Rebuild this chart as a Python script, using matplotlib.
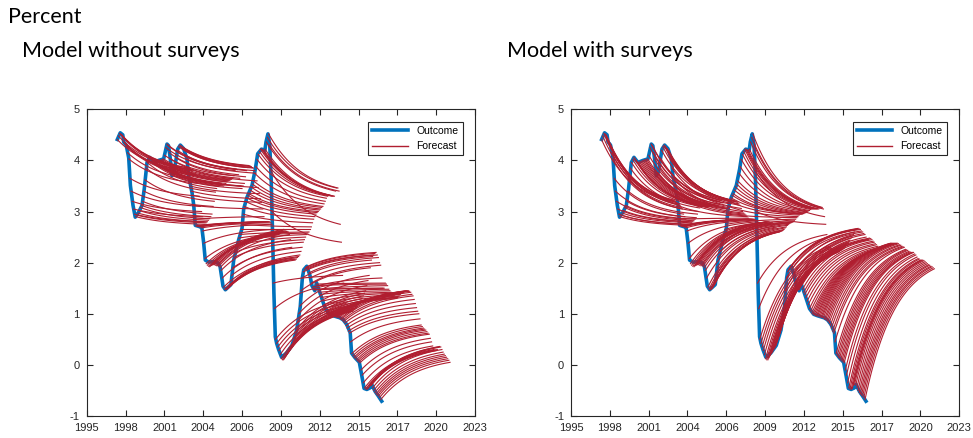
import numpy as np
import matplotlib
matplotlib.use("Agg")
import matplotlib.pyplot as plt

plt.rcParams["axes.unicode_minus"] = False

# --- OUTCOME (decimal years) ---
out_year = [1997.21, 1997.42, 1997.60, 1997.67, 1997.85, 1998.03, 1998.15, 1998.34, 1998.50,
            1998.75, 1998.99, 1999.15, 1999.35, 1999.54, 1999.83, 2000.19, 2000.55, 2000.79,
            2000.90, 2001.03, 2001.15, 2001.30, 2001.56, 2001.75, 2001.99, 2002.23, 2002.35,
            2002.59, 2002.72, 2002.83, 2003.19, 2003.31, 2003.43, 2003.55, 2003.80, 2004.18,
            2004.50, 2004.62, 2004.83, 2005.00, 2005.40, 2005.60, 2005.96, 2006.20, 2006.32,
            2006.56, 2006.92, 2007.16, 2007.33, 2007.60, 2007.85, 2007.93, 2008.07, 2008.20,
            2008.30, 2008.40, 2008.50, 2008.60, 2008.70, 2008.84, 2009.05, 2009.40, 2009.80,
            2010.14, 2010.40, 2010.55, 2010.65, 2010.87, 2011.10, 2011.24, 2011.45, 2011.57,
            2011.82, 2012.20, 2012.50, 2012.79, 2013.27, 2013.50, 2013.75, 2014.00, 2014.10,
            2014.35, 2014.66, 2014.83, 2015.00, 2015.20, 2015.43, 2015.55, 2015.80, 2016.03,
            2016.27]
out_value = [4.41, 4.54, 4.50, 4.36, 4.30, 4.05, 3.51, 3.12, 2.89,
             2.99, 3.12, 3.44, 3.96, 4.06, 3.96, 4.00, 4.03, 4.32,
             4.29, 4.03, 3.70, 3.77, 4.22, 4.30, 4.23, 4.03, 3.70,
             3.38, 3.12, 2.73, 2.70, 2.67, 2.40, 2.05, 2.01, 2.02,
             1.99, 1.92, 1.54, 1.47, 1.57, 2.05, 2.45, 2.67, 3.05,
             3.28, 3.51, 3.83, 4.13, 4.22, 4.20, 4.36, 4.52, 4.30,
             3.65, 2.60, 1.40, 0.55, 0.42, 0.30, 0.15, 0.23, 0.38,
             0.68, 1.14, 1.70, 1.86, 1.93, 1.75, 1.55, 1.45, 1.61,
             1.41, 1.10, 0.99, 0.96, 0.92, 0.88, 0.79, 0.63, 0.23,
             0.14, 0.05, -0.20, -0.46, -0.48, -0.45, -0.38, -0.52, -0.61,
             -0.71]

# --- FORECASTS: one per month from 1997.2; starting value and value at the 5-year horizon ---
fc_first = 1997.2
fc_start = [4.41, 4.48, 4.53, 4.52, 4.50, 4.45, 4.35, 4.32, 4.28, 4.15, 4.03, 3.65,
            3.40, 3.20, 3.05, 2.95, 2.90, 2.93, 2.97, 3.02, 3.08, 3.12, 3.20, 3.40,
            3.62, 3.85, 3.96, 4.02, 4.06, 4.03, 4.00, 3.97, 3.96, 3.97, 3.98, 3.99,
            4.00, 4.01, 4.01, 4.02, 4.03, 4.10, 4.25, 4.32, 4.29, 4.15, 4.03, 3.80,
            3.70, 3.76, 3.85, 4.05, 4.20, 4.27, 4.30, 4.28, 4.25, 4.23, 4.20, 4.10,
            4.03, 3.85, 3.68, 3.50, 3.40, 3.32, 3.12, 2.85, 2.72, 2.71, 2.71, 2.70,
            2.70, 2.68, 2.62, 2.38, 2.08, 1.98, 1.95, 1.93, 1.92, 1.94, 1.95, 1.96,
            1.96, 1.95, 1.94, 1.94, 1.93, 1.90, 1.85, 1.70, 1.52, 1.48, 1.47, 1.48,
            1.50, 1.54, 1.58, 1.75, 1.90, 2.10, 2.20, 2.32, 2.40, 2.48, 2.55, 2.65,
            2.75, 2.95, 3.10, 3.20, 3.27, 3.32, 3.35, 3.42, 3.48, 3.54, 3.60, 3.75,
            3.88, 4.02, 4.12, 4.18, 4.22, 4.22, 4.21, 4.20, 4.22, 4.36, 4.45, 4.52,
            4.30, 3.80, 3.00, 1.60, 1.10, 0.50, 0.42, 0.35, 0.28, 0.20, 0.12, 0.10,
            0.10, 0.14, 0.18, 0.22, 0.25, 0.30, 0.33, 0.38, 0.45, 0.52, 0.60, 0.68,
            0.85, 1.00, 1.15, 1.45, 1.70, 1.82, 1.87, 1.90, 1.92, 1.88, 1.80, 1.70,
            1.60, 1.52, 1.47, 1.47, 1.58, 1.55, 1.48, 1.42, 1.38, 1.32, 1.25, 1.18,
            1.10, 1.05, 1.01, 0.99, 0.98, 0.97, 0.96, 0.96, 0.95, 0.94, 0.93, 0.93,
            0.92, 0.90, 0.89, 0.87, 0.85, 0.82, 0.77, 0.72, 0.66, 0.62, 0.45, 0.22,
            0.18, 0.15, 0.13, 0.10, 0.08, 0.06, 0.04, -0.10, -0.20, -0.35, -0.45, -0.47,
            -0.48, -0.46, -0.40, -0.38, -0.40, -0.45, -0.50, -0.54, -0.57, -0.59, -0.61, -0.64,
            -0.68]
fc_end_without = [3.80, 3.83, 3.85, 3.85, 3.82, 3.80, 3.75, 3.72, 3.70, 3.62, 3.55, 3.30,
                  3.10, 3.00, 2.90, 2.80, 2.75, 2.78, 2.80, 2.83, 2.86, 2.90, 2.95, 3.10,
                  3.20, 3.38, 3.45, 3.50, 3.55, 3.55, 3.55, 3.52, 3.50, 3.52, 3.55, 3.58,
                  3.60, 3.61, 3.62, 3.63, 3.65, 3.70, 3.80, 3.83, 3.82, 3.72, 3.65, 3.50,
                  3.45, 3.50, 3.55, 3.68, 3.80, 3.86, 3.90, 3.89, 3.88, 3.86, 3.85, 3.80,
                  3.75, 3.60, 3.47, 3.35, 3.25, 3.18, 3.05, 2.90, 2.80, 2.80, 2.80, 2.80,
                  2.80, 2.78, 2.75, 2.65, 2.55, 2.55, 2.55, 2.55, 2.55, 2.58, 2.60, 2.62,
                  2.65, 2.64, 2.62, 2.61, 2.60, 2.55, 2.45, 2.30, 2.10, 2.07, 2.05, 2.07,
                  2.10, 2.12, 2.15, 2.22, 2.30, 2.40, 2.45, 2.50, 2.55, 2.58, 2.60, 2.65,
                  2.70, 2.78, 2.85, 2.90, 2.95, 2.98, 3.00, 3.03, 3.05, 3.08, 3.10, 3.15,
                  3.20, 3.26, 3.30, 3.31, 3.32, 3.31, 3.30, 3.30, 3.30, 3.40, 3.46, 3.46,
                  3.40, 2.75, 2.40, 1.75, 1.60, 1.25, 1.20, 1.15, 1.12, 1.08, 1.05, 1.05,
                  1.05, 1.08, 1.10, 1.12, 1.15, 1.18, 1.20, 1.25, 1.30, 1.35, 1.40, 1.45,
                  1.55, 1.65, 1.75, 1.90, 2.05, 2.12, 2.15, 2.18, 2.20, 2.15, 2.10, 2.00,
                  1.95, 1.70, 1.50, 1.50, 1.60, 1.58, 1.55, 1.48, 1.45, 1.42, 1.40, 1.37,
                  1.35, 1.32, 1.30, 1.32, 1.35, 1.38, 1.40, 1.41, 1.42, 1.44, 1.45, 1.45,
                  1.45, 1.44, 1.42, 1.38, 1.35, 1.28, 1.20, 1.12, 1.05, 1.00, 0.90, 0.78,
                  0.75, 0.72, 0.70, 0.68, 0.65, 0.62, 0.60, 0.52, 0.45, 0.37, 0.30, 0.29,
                  0.28, 0.30, 0.35, 0.36, 0.35, 0.30, 0.25, 0.21, 0.18, 0.15, 0.12, 0.09,
                  0.05]
fc_end_with = [3.20, 3.21, 3.22, 3.22, 3.20, 3.18, 3.15, 3.13, 3.12, 3.08, 3.05, 2.95,
               2.90, 2.85, 2.80, 2.75, 2.73, 2.75, 2.78, 2.80, 2.82, 2.85, 2.88, 2.95,
               3.00, 3.07, 3.10, 3.11, 3.12, 3.11, 3.10, 3.09, 3.08, 3.09, 3.10, 3.11,
               3.12, 3.12, 3.12, 3.12, 3.12, 3.15, 3.20, 3.22, 3.22, 3.17, 3.12, 3.07,
               3.05, 3.06, 3.08, 3.15, 3.20, 3.21, 3.22, 3.21, 3.20, 3.19, 3.18, 3.15,
               3.12, 3.06, 3.00, 2.97, 2.95, 2.93, 2.90, 2.87, 2.85, 2.85, 2.85, 2.85,
               2.85, 2.84, 2.83, 2.80, 2.78, 2.78, 2.78, 2.78, 2.78, 2.79, 2.80, 2.80,
               2.80, 2.80, 2.78, 2.78, 2.78, 2.76, 2.72, 2.68, 2.62, 2.61, 2.60, 2.61,
               2.62, 2.63, 2.65, 2.68, 2.70, 2.73, 2.75, 2.77, 2.78, 2.79, 2.80, 2.82,
               2.85, 2.88, 2.90, 2.93, 2.95, 2.95, 2.95, 2.96, 2.97, 2.98, 3.00, 3.01,
               3.02, 3.04, 3.05, 3.05, 3.05, 3.05, 3.05, 3.05, 3.05, 3.07, 3.08, 3.08,
               3.05, 2.90, 2.75, 2.55, 2.50, 2.32, 2.30, 2.28, 2.25, 2.22, 2.20, 2.20,
               2.20, 2.21, 2.22, 2.24, 2.25, 2.27, 2.28, 2.31, 2.35, 2.38, 2.40, 2.44,
               2.48, 2.52, 2.55, 2.60, 2.65, 2.66, 2.67, 2.66, 2.65, 2.62, 2.60, 2.57,
               2.55, 2.50, 2.45, 2.45, 2.48, 2.47, 2.45, 2.42, 2.40, 2.37, 2.35, 2.32,
               2.30, 2.29, 2.28, 2.29, 2.30, 2.31, 2.32, 2.33, 2.35, 2.37, 2.38, 2.38,
               2.38, 2.38, 2.38, 2.38, 2.38, 2.37, 2.35, 2.34, 2.32, 2.31, 2.30, 2.26,
               2.25, 2.24, 2.22, 2.21, 2.20, 2.20, 2.20, 2.17, 2.15, 2.11, 2.08, 2.07,
               2.05, 2.05, 2.05, 2.04, 2.02, 2.00, 1.98, 1.96, 1.95, 1.93, 1.92, 1.90,
               1.88]

xtick_labels = ["1995", "1998", "2001", "2004", "2006", "2009",
                "2012", "2015", "2017", "2020", "2023"]
panel_titles = ["Model without surveys", "Model with surveys"]

# --- STYLE ---
blue = "#0072BD"
red = "#B01E30"
dark = "#262626"
horizon = 5.0
decay = {"without": 0.40, "with": 0.45}   # how fast forecast paths bend toward their end value

fc_origin = fc_first + np.arange(len(fc_start)) / 12

fig = plt.figure(figsize=(9.73, 4.38), dpi=100)
fig.text(8 / 973, 1 - 17 / 438, "Percent", ha="left", va="center",
         fontsize=15.5, family="Lato")
fig.text(22 / 973, 1 - 51 / 438, panel_titles[0], ha="left", va="center",
         fontsize=15.5, family="Lato")
fig.text(507 / 973, 1 - 51 / 438, panel_titles[1], ha="left", va="center",
         fontsize=15.5, family="Lato")

h = np.linspace(0, horizon, 40)
panels = [(86.7, fc_end_without, decay["without"]), (571.0, fc_end_with, decay["with"])]
for left_px, fc_end, k in panels:
    ax = fig.add_axes([left_px / 973, 22 / 438, 388.3 / 973, 306.7 / 438])
    ax.plot(out_year, out_value, color=blue, lw=2.6, label="Outcome",
            solid_joinstyle="round", zorder=2)
    w = (np.exp(-k * h) - np.exp(-k * horizon)) / (1 - np.exp(-k * horizon))
    for i, (t0, s, e) in enumerate(zip(fc_origin, fc_start, fc_end)):
        ax.plot(t0 + h, e + (s - e) * w, color=red, lw=0.8, zorder=3,
                label="Forecast" if i == 0 else None)
    ax.set_xlim(1995, 2023)
    ax.set_ylim(-1, 5)
    ax.set_xticks(np.linspace(1995, 2023, 11))
    ax.set_xticklabels(xtick_labels)
    ax.set_yticks(range(-1, 6))
    ax.tick_params(direction="in", length=4, width=0.8, colors=dark,
                   labelsize=8, top=True, right=True)
    ax.tick_params(axis="x", pad=5)
    ax.tick_params(axis="y", pad=5)
    for lab in ax.get_xticklabels() + ax.get_yticklabels():
        lab.set_family("Liberation Sans")
    for sp in ax.spines.values():
        sp.set_color(dark)
        sp.set_linewidth(0.8)
    leg = ax.legend(loc="upper right", handlelength=3.4, fancybox=False,
                    framealpha=1, borderaxespad=1.2,
                    prop={"family": "Liberation Sans", "size": 7.5})
    leg.get_frame().set_edgecolor(dark)
    leg.get_frame().set_linewidth(0.8)
    leg.get_lines()[1].set_linewidth(1.0)

fig.savefig("out.png", dpi=100)
